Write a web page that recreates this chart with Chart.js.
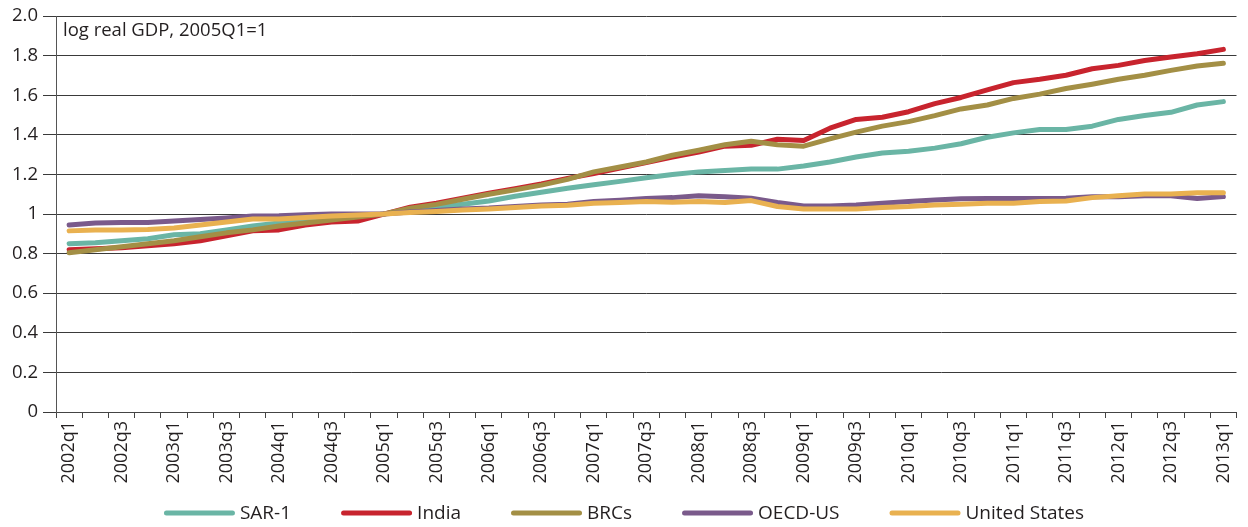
<!DOCTYPE html>
<html>
<head>
<meta charset="utf-8">
<script src="https://cdn.jsdelivr.net/npm/chart.js@4/dist/chart.umd.min.js"></script>
<style>
  html, body { margin: 0; padding: 0; background: #ffffff; }
  #wrap { width: 1248px; height: 527px; position: relative; }
</style>
</head>
<body>
<div id="wrap"><canvas id="c" width="1248" height="527"></canvas></div>
<script>
const quarters = [
  "2002q1","2002q2","2002q3","2002q4","2003q1","2003q2","2003q3","2003q4",
  "2004q1","2004q2","2004q3","2004q4","2005q1","2005q2","2005q3","2005q4",
  "2006q1","2006q2","2006q3","2006q4","2007q1","2007q2","2007q3","2007q4",
  "2008q1","2008q2","2008q3","2008q4","2009q1","2009q2","2009q3","2009q4",
  "2010q1","2010q2","2010q3","2010q4","2011q1","2011q2","2011q3","2011q4",
  "2012q1","2012q2","2012q3","2012q4","2013q1"
];
const yTickLabels = ["0","0.2","0.4","0.6","0.8","1","1.2","1.4","1.6","1.8","2.0"];
const seriesNames = ["SAR-1","India","BRCs","OECD-US","United States"];
const seriesColors = ["#6ab5a5","#c8242e","#a38f45","#7a5a8b","#e9b150"];

const sar1 = [0.85,0.855,0.865,0.875,0.895,0.9,0.92,0.94,0.955,0.965,0.975,0.985,1.0,
  1.02,1.035,1.05,1.066,1.09,1.11,1.13,1.148,1.165,1.183,1.2,1.213,1.22,1.227,1.227,
  1.243,1.263,1.288,1.308,1.317,1.333,1.355,1.388,1.41,1.427,1.427,1.444,1.478,1.498,
  1.514,1.551,1.568];
const india = [0.82,0.825,0.83,0.84,0.85,0.865,0.89,0.915,0.92,0.945,0.96,0.965,1.0,
  1.035,1.055,1.08,1.105,1.128,1.152,1.18,1.205,1.232,1.26,1.288,1.313,1.343,1.347,1.378,
  1.372,1.434,1.478,1.489,1.517,1.558,1.589,1.627,1.664,1.681,1.701,1.734,1.751,1.776,
  1.793,1.81,1.832];
const brcs = [0.805,0.82,0.835,0.85,0.865,0.885,0.905,0.92,0.94,0.955,0.97,0.985,1.0,
  1.03,1.049,1.075,1.1,1.122,1.146,1.175,1.213,1.238,1.263,1.297,1.322,1.35,1.368,1.35,
  1.343,1.38,1.414,1.444,1.467,1.497,1.531,1.551,1.584,1.606,1.634,1.656,1.681,1.701,
  1.726,1.748,1.762];
const oecdUs = [0.945,0.955,0.957,0.957,0.965,0.972,0.98,0.99,0.992,0.997,1.0,1.0,1.0,
  1.01,1.018,1.026,1.03,1.038,1.046,1.05,1.063,1.07,1.079,1.083,1.093,1.088,1.08,1.059,
  1.041,1.041,1.046,1.054,1.063,1.071,1.077,1.079,1.079,1.079,1.08,1.088,1.088,1.093,
  1.093,1.079,1.088];
const unitedStates = [0.915,0.92,0.92,0.922,0.93,0.945,0.96,0.975,0.975,0.982,0.99,0.995,1.0,
  1.008,1.013,1.02,1.026,1.033,1.041,1.045,1.054,1.058,1.063,1.06,1.063,1.058,1.068,1.038,
  1.026,1.026,1.026,1.033,1.038,1.046,1.05,1.054,1.054,1.063,1.066,1.083,1.093,1.101,
  1.101,1.108,1.108];

const seriesValues = [sar1, india, brcs, oecdUs, unitedStates];
const FONT = "'Open Sans', 'Noto Sans', sans-serif";
const TEXT = "#231f20";

const datasets = seriesNames.map((name, i) => ({
  label: name,
  data: seriesValues[i],
  borderColor: seriesColors[i],
  backgroundColor: seriesColors[i],
  borderWidth: 5,
  pointRadius: 0,
  tension: 0,
  borderCapStyle: 'round',
  borderJoinStyle: 'round',
  order: seriesNames.length - i
}));

const noteAndLegend = {
  id: 'noteAndLegend',
  afterDraw(chart) {
    const ctx = chart.ctx;
    const area = chart.chartArea;
    ctx.save();
    ctx.fillStyle = TEXT;
    ctx.font = "18.5px " + FONT;
    ctx.textBaseline = 'alphabetic';
    ctx.textAlign = 'left';
    ctx.fillText("log real GDP, 2005Q1=1", area.left + 7, area.top + 20);

    // legend
    ctx.font = "19px " + FONT;
    const sampleW = 71, gapText = 5, gapItem = 50;
    const ds = chart.data.datasets;
    const widths = ds.map(d => sampleW + gapText + ctx.measureText(d.label).width);
    const total = widths.reduce((a, b) => a + b, 0) + gapItem * (ds.length - 1);
    let x = chart.width / 2 - total / 2;
    const y = 513;
    ds.forEach((d, i) => {
      ctx.strokeStyle = d.borderColor;
      ctx.lineWidth = 5;
      ctx.lineCap = 'round';
      ctx.beginPath();
      ctx.moveTo(x + 2.5, y);
      ctx.lineTo(x + sampleW - 2.5, y);
      ctx.stroke();
      ctx.fillStyle = TEXT;
      ctx.textBaseline = 'middle';
      ctx.fillText(d.label, x + sampleW + gapText, y + 1);
      x += widths[i] + gapItem;
    });
    ctx.restore();
  }
};

new Chart(document.getElementById('c'), {
  type: 'line',
  data: { labels: quarters, datasets: datasets },
  options: {
    responsive: false,
    animation: false,
    layout: { padding: { top: 13, right: 1, left: 0, bottom: 0 } },
    plugins: {
      legend: { display: false },
      tooltip: { enabled: false },
      title: { display: false }
    },
    scales: {
      x: {
        offset: true,
        grid: {
          offset: true,
          drawOnChartArea: false,
          drawTicks: true,
          tickLength: 6,
          color: '#444'
        },
        border: { display: true, color: '#444', width: 1 },
        ticks: {
          autoSkip: false,
          maxRotation: 90,
          minRotation: 90,
          padding: 3,
          color: TEXT,
          font: { family: FONT, size: 18 },
          callback: function(value, index) {
            return index % 2 === 0 ? quarters[index] : '';
          }
        },
        afterFit(scale) { scale.height = 115; }
      },
      y: {
        min: 0,
        max: 2,
        grid: {
          color: '#3a3a3a',
          lineWidth: 1,
          drawTicks: true,
          tickLength: 13
        },
        border: { display: true, color: '#555', width: 1 },
        ticks: {
          stepSize: 0.2,
          padding: 5,
          color: TEXT,
          font: { family: FONT, size: 18.5 },
          callback: function(value, index) { return yTickLabels[index]; }
        },
        afterFit(scale) { scale.width = 56; }
      }
    }
  },
  plugins: [noteAndLegend]
});
</script>
</body>
</html>
